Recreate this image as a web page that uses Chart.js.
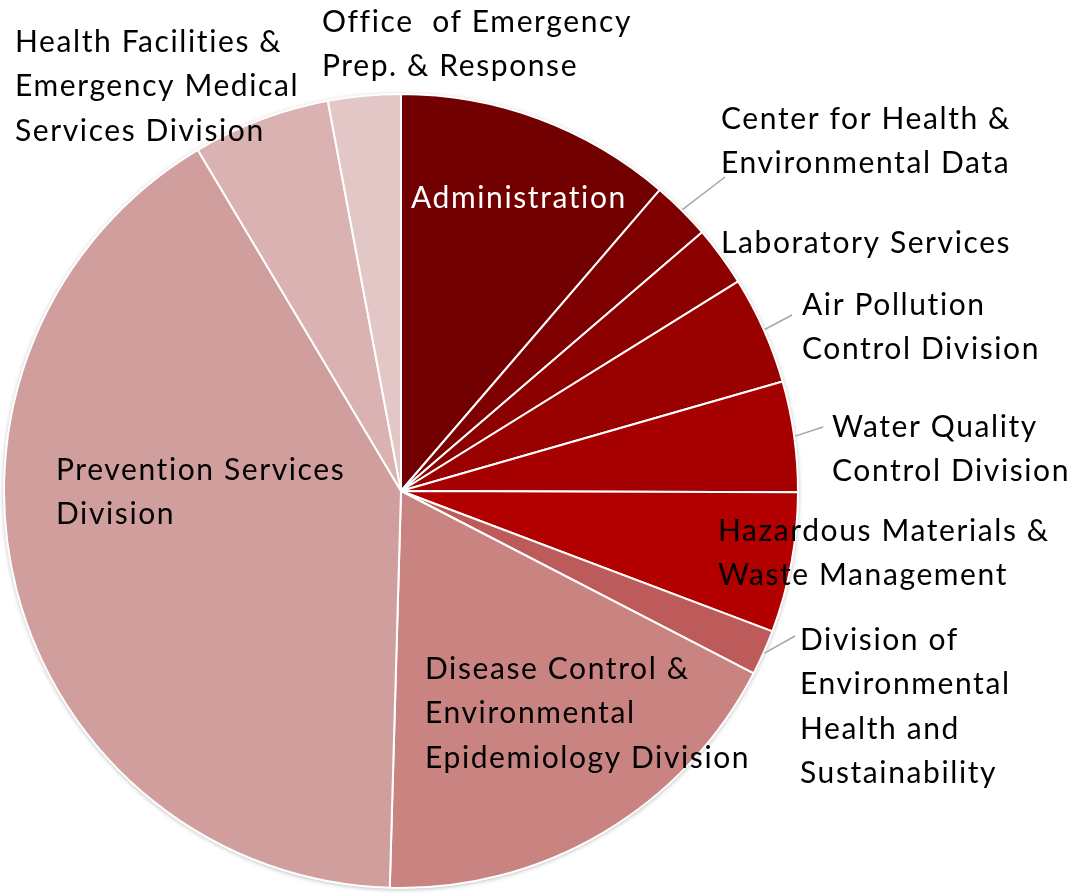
<!DOCTYPE html>
<html>
<head>
<meta charset="utf-8">
<script src="https://cdn.jsdelivr.net/npm/chart.js@4.4.1/dist/chart.umd.min.js"></script>
<style>
  html, body { margin: 0; padding: 0; background: #ffffff; }
  canvas { display: block; }
</style>
</head>
<body>
<canvas id="c" width="1084" height="894"></canvas>
<script>
// ---- Data (percent of total) ----
const categories = [
  "Administration",
  "Center for Health & Environmental Data",
  "Laboratory Services",
  "Air Pollution Control Division",
  "Water Quality Control Division",
  "Hazardous Materials & Waste Management",
  "Division of Environmental Health and Sustainability",
  "Disease Control & Environmental Epidemiology Division",
  "Prevention Services Division",
  "Health Facilities & Emergency Medical Services Division",
  "Office of Emergency Prep. & Response"
];
const shares = [11.3, 2.4, 2.45, 4.4, 4.5, 5.7, 1.85, 17.85, 41.0, 5.6, 2.95];
const sliceColors = [
  "#730000", "#7f0000", "#8c0000", "#990000", "#a60000", "#b20000",
  "#bd5b5b", "#c98381", "#d19e9e", "#dab2b2", "#e3c7c7"
];
// label text lines as shown on the chart
const labelLines = [
  ["Administration"],
  ["Center for Health &", "Environmental Data"],
  ["Laboratory Services"],
  ["Air Pollution", "Control Division"],
  ["Water Quality", "Control Division"],
  ["Hazardous Materials &", "Waste Management"],
  ["Division of", "Environmental", "Health and", "Sustainability"],
  ["Disease Control &", "Environmental", "Epidemiology Division"],
  ["Prevention Services", "Division"],
  ["Health Facilities &", "Emergency Medical", "Services Division"],
  ["Office  of Emergency", "Prep. & Response"]
];

// ---- Label layout (text placement, not data) ----
const labelLayout = [
  { x: 411, y: 198, color: "#ffffff", leader: null },
  { x: 721, y: 119, color: "#000000", leader: [725, 177] },
  { x: 721, y: 243, color: "#000000", leader: null },
  { x: 802, y: 305, color: "#000000", leader: [792, 315] },
  { x: 832, y: 427, color: "#000000", leader: [823, 427] },
  { x: 718, y: 531, color: "#000000", leader: null },
  { x: 800, y: 640, color: "#000000", leader: [795, 636] },
  { x: 425, y: 669, color: "#000000", leader: null },
  { x: 56,  y: 470, color: "#000000", leader: null },
  { x: 15,  y: 42,  color: "#000000", leader: null },
  { x: 322, y: 22,  color: "#000000", leader: null }
];
const FONT_SIZE = 30;
const LETTER_SPACING = "1.6px";
const LINE_H = 44.5;
const FONT_FAMILY = "Lato, 'Open Sans', sans-serif";

const rimShadow = {
  id: "rimShadow",
  beforeDatasetsDraw(chart) {
    const arc = chart.getDatasetMeta(0).data[0];
    if (!arc) return;
    const { x, y, outerRadius } = arc.getProps(["x", "y", "outerRadius"], true);
    const ctx = chart.ctx;
    ctx.save();
    ctx.shadowColor = "rgba(0,0,0,0.35)";
    ctx.shadowBlur = 5;
    ctx.shadowOffsetX = 0;
    ctx.shadowOffsetY = 1;
    ctx.fillStyle = "#ffffff";
    ctx.beginPath();
    ctx.arc(x, y, outerRadius, 0, Math.PI * 2);
    ctx.fill();
    ctx.restore();
  }
};

const pieLabels = {
  id: "pieLabels",
  afterDatasetsDraw(chart) {
    const ctx = chart.ctx;
    const arcs = chart.getDatasetMeta(0).data;
    ctx.save();
    // leader lines
    ctx.strokeStyle = "#a6a6a6";
    ctx.lineWidth = 1.5;
    arcs.forEach((arc, i) => {
      const lay = labelLayout[i];
      if (!lay || !lay.leader) return;
      const p = arc.getProps(["x", "y", "startAngle", "endAngle", "outerRadius"], true);
      const mid = (p.startAngle + p.endAngle) / 2;
      const sx = p.x + Math.cos(mid) * (p.outerRadius + 1);
      const sy = p.y + Math.sin(mid) * (p.outerRadius + 1);
      ctx.beginPath();
      ctx.moveTo(sx, sy);
      ctx.lineTo(lay.leader[0], lay.leader[1]);
      ctx.stroke();
    });
    // text
    ctx.font = FONT_SIZE + "px " + FONT_FAMILY;
    if ("letterSpacing" in ctx) ctx.letterSpacing = LETTER_SPACING;
    ctx.textAlign = "left";
    ctx.textBaseline = "middle";
    labelLines.forEach((lines, i) => {
      const lay = labelLayout[i];
      ctx.fillStyle = lay.color;
      lines.forEach((t, k) => ctx.fillText(t, lay.x, lay.y + k * LINE_H));
    });
    ctx.restore();
  }
};

new Chart(document.getElementById("c"), {
  type: "pie",
  data: {
    labels: categories,
    datasets: [{
      data: shares,
      backgroundColor: sliceColors,
      borderColor: "#ffffff",
      borderWidth: 2
    }]
  },
  options: {
    responsive: false,
    animation: false,
    events: [],
    layout: { padding: { left: 3, top: 93, right: 285, bottom: 5 } },
    plugins: {
      legend: { display: false },
      tooltip: { enabled: false },
      title: { display: false }
    }
  },
  plugins: [rimShadow, pieLabels]
});
</script>
</body>
</html>
